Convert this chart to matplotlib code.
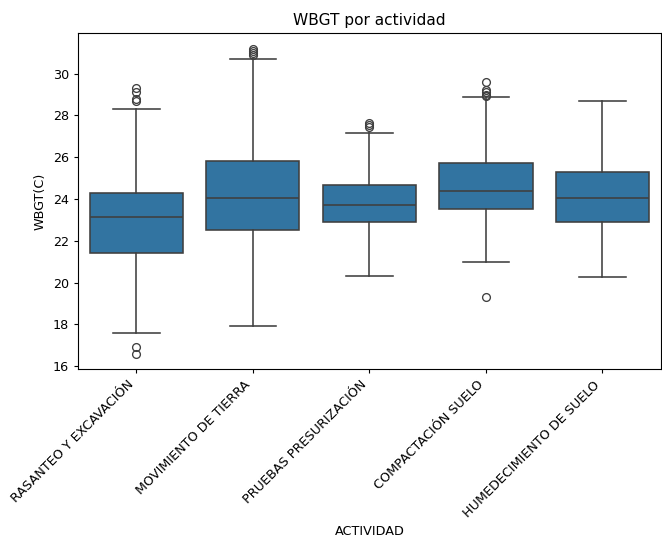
import matplotlib.pyplot as plt

# datos (WBGT en grados C por actividad)
actividades = ["RASANTEO Y EXCAVACIÓN", "MOVIMIENTO DE TIERRA", "PRUEBAS PRESURIZACIÓN",
               "COMPACTACIÓN SUELO", "HUMEDECIMIENTO DE SUELO"]
bigote_inf = [17.6, 17.9, 20.32, 20.98, 20.27]
q1 = [21.4, 22.5, 22.88, 23.53, 22.91]
mediana = [23.15, 24.05, 23.73, 24.38, 24.06]
q3 = [24.3, 25.8, 24.68, 25.7, 25.27]
bigote_sup = [28.3, 30.7, 27.17, 28.89, 28.71]
atipicos = [
    [16.6, 16.9, 28.7, 28.8, 29.1, 29.3],
    [30.9, 31.0, 31.1, 31.2],
    [27.45, 27.55, 27.65],
    [19.31, 28.95, 29.0, 29.1, 29.2, 29.6],
    [],
]

plt.rcParams['font.size'] = 9.2
plt.rcParams['xtick.major.size'] = 3.2
plt.rcParams['ytick.major.size'] = 3.2

stats = []
for i in range(len(actividades)):
    stats.append(dict(whislo=bigote_inf[i], q1=q1[i], med=mediana[i], q3=q3[i],
                      whishi=bigote_sup[i], fliers=atipicos[i]))

gris = "#3f3f3f"
lw = 1.15
fig, ax = plt.subplots(figsize=(6.62, 5.37), dpi=100)

ax.bxp(stats, positions=range(len(actividades)), widths=0.8, capwidths=0.4,
       patch_artist=True,
       boxprops=dict(facecolor="#3274a1", edgecolor=gris, linewidth=lw),
       medianprops=dict(color=gris, linewidth=lw),
       whiskerprops=dict(color=gris, linewidth=lw),
       capprops=dict(color=gris, linewidth=lw),
       flierprops=dict(marker="o", markerfacecolor="none", markeredgecolor=gris,
                       markersize=5.6, markeredgewidth=0.95))

ax.set_xlim(-0.5, len(actividades) - 0.5)
ax.set_xticks(range(len(actividades)))
ax.set_xticklabels(actividades, rotation=45, ha="right")
ax.set_xlabel("ACTIVIDAD")
ax.set_ylabel("WBGT(C)")
ax.set_title("WBGT por actividad")

fig.subplots_adjust(left=0.118, right=0.998, top=0.938, bottom=0.313)
plt.savefig("out.png")
